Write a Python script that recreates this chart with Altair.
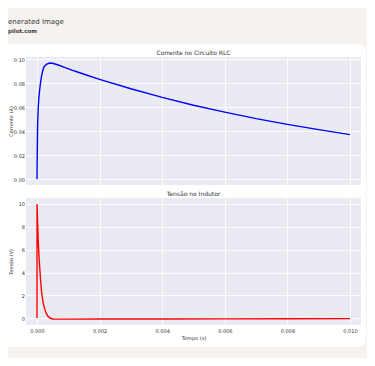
import altair as alt
import pandas as pd

# ---- data ----
t_current = [0, 0.00001, 0.00002, 0.00004, 0.00006, 0.000085, 0.00011, 0.00014,
             0.00018, 0.00022, 0.0003, 0.0004, 0.0005, 0.0007, 0.0009, 0.0012,
             0.0016, 0.002, 0.003, 0.004, 0.005, 0.006, 0.007, 0.008, 0.009, 0.010]
current = [0.0, 0.026, 0.046, 0.060, 0.068, 0.0745, 0.080, 0.0853,
           0.090, 0.0936, 0.0958, 0.0969, 0.0967, 0.0950, 0.0931, 0.0902,
           0.0867, 0.0833, 0.0754, 0.0682, 0.0617, 0.0559, 0.0505, 0.0457, 0.0414, 0.0372]

t_voltage = [0, 0.000002, 0.00002, 0.00004, 0.00006, 0.000085, 0.00011, 0.00015,
             0.0002, 0.000256, 0.0003, 0.00036, 0.00043, 0.00051, 0.0007, 0.001,
             0.002, 0.004, 0.006, 0.008, 0.010]
voltage = [0.0, 10.0, 8.3, 6.8, 5.6, 4.5, 3.5, 2.2,
           1.3, 0.73, 0.4, 0.14, 0.0, -0.06, -0.08, -0.08,
           -0.07, -0.06, -0.05, -0.04, -0.03]

x_ticks = [0, 0.002, 0.004, 0.006, 0.008, 0.010]
current_ticks = [0, 0.02, 0.04, 0.06, 0.08, 0.10]
voltage_ticks = [0, 2, 4, 6, 8, 10]

title_top = "Corrente no Circuito RLC"
title_bottom = "Tensão no Indutor"
ylabel_top = "Corrente (A)"
ylabel_bottom = "Tensão (V)"
xlabel = "Tempo (s)"
header_line1 = "enerated Image"
header_line2 = "pilot.com"

# ---- styling ----
FONT = "DejaVu Sans"
BEIGE = "#f5f2ef"
TXT = "#333333"
LEFT = 18          # plot left edge in canvas px
CANVAS_W = 359
CANVAS_H = 350
W = 335
X_DOMAIN = [-(37 - 26) / 31300, (361 - 37) / 31300]

df_i = pd.DataFrame({"t": t_current, "i": current})
df_v = pd.DataFrame({"t": t_voltage, "v": voltage})
dummy = pd.DataFrame({"a": [0]})

# header: page background, white card, watermark text
bg = alt.Chart(dummy).mark_rect(color=BEIGE).encode(
    x=alt.value(-LEFT), x2=alt.value(CANVAS_W - LEFT), y=alt.value(0), y2=alt.value(CANVAS_H))
card = alt.Chart(dummy).mark_rect(color="white", cornerRadiusTopRight=8,
                                  cornerRadiusBottomRight=8).encode(
    x=alt.value(-LEFT), x2=alt.value(358 - LEFT), y=alt.value(36), y2=alt.value(339))
txt1 = alt.Chart(dummy).mark_text(text=header_line1, align="left", baseline="alphabetic",
                                  fontSize=7, color="#3a3a3a", font=FONT).encode(
    x=alt.value(-LEFT), y=alt.value(16))
txt2 = alt.Chart(dummy).mark_text(text=header_line2, align="left", baseline="alphabetic",
                                  fontSize=5.5, fontWeight="bold", color="#3a3a3a",
                                  font=FONT).encode(
    x=alt.value(-LEFT), y=alt.value(25))
header = alt.layer(bg, card, txt1, txt2).properties(width=W, height=36)

xscale = alt.Scale(domain=X_DOMAIN, nice=False, zero=False)

common_y_axis = dict(labelFontSize=5, labelPadding=1.5, titleFontSize=5,
                     titleX=-LEFT + 5, titleBaseline="bottom", titleAngle=270,
                     gridColor="white", gridWidth=0.9)

top = alt.Chart(df_i).mark_line(color="#0000ff", strokeWidth=1.4).encode(
    x=alt.X("t:Q", scale=xscale,
            axis=alt.Axis(values=x_ticks, labels=False, ticks=False, domain=False,
                          title=None, gridColor="white", gridWidth=0.9)),
    y=alt.Y("i:Q", scale=alt.Scale(domain=[-0.0048, 0.1019], nice=False, zero=False),
            axis=alt.Axis(values=current_ticks, format=".2f", title=ylabel_top,
                          **common_y_axis)),
).properties(width=W, height=128,
             title=alt.TitleParams(title_top, fontSize=6, offset=1.5, color=TXT,
                                   fontWeight="normal", font=FONT))

bottom = alt.Chart(df_v).mark_line(color="#ff0000", strokeWidth=1.4).encode(
    x=alt.X("t:Q", scale=xscale,
            axis=alt.Axis(values=x_ticks, format=".3f", title=xlabel, ticks=False,
                          tickSize=0, domain=False, labelFontSize=5, labelPadding=3.5,
                          titleFontSize=5, titlePadding=2,
                          gridColor="white", gridWidth=0.9)),
    y=alt.Y("v:Q", scale=alt.Scale(domain=[-0.59, 10.52], nice=False, zero=False),
            axis=alt.Axis(values=voltage_ticks, format="d", title=ylabel_bottom,
                          **common_y_axis)),
).properties(width=W, height=127,
             title=alt.TitleParams(title_bottom, fontSize=6, offset=1.5, color=TXT,
                                   fontWeight="normal", font=FONT))

chart = alt.vconcat(header, top, bottom, spacing=13, bounds="flush").properties(
    padding=0
).configure(
    background=BEIGE, font=FONT
).configure_view(
    fill="#eaeaf2", strokeWidth=0
).configure_axis(
    labelFont=FONT, titleFont=FONT, labelColor=TXT, titleColor=TXT,
    titleFontWeight="normal", domain=False, ticks=False, tickSize=0
)

chart.save("out.html", embed_options={"renderer": "svg", "actions": False})
